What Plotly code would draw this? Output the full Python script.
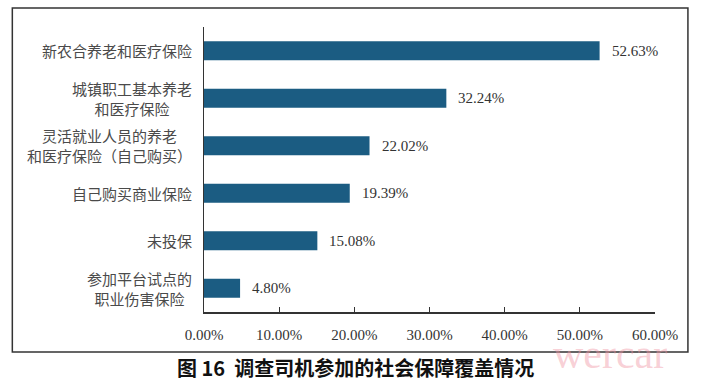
import plotly.graph_objects as go

categories = [
    "新农合养老和医疗保险",
    "城镇职工基本养老<br>和医疗保险",
    "灵活就业人员的养老<br>和医疗保险（自己购买）",
    "自己购买商业保险",
    "未投保",
    "参加平台试点的<br>职业伤害保险",
]
values = [52.63, 32.24, 22.02, 19.39, 15.08, 4.80]
x_ticks = [0, 10, 20, 30, 40, 50, 60]
x_tick_labels = [f"{v:.2f}%" for v in x_ticks]
title_text = "图 16  调查司机参加的社会保障覆盖情况"

BAR = "#1b5c82"
SERIF = "Liberation Serif, Times New Roman, serif"
CJK = "Noto Sans CJK SC, sans-serif"

fig = go.Figure()
fig.add_trace(go.Bar(
    x=values, y=categories, orientation="h",
    marker=dict(color=BAR, line=dict(width=0)),
    width=0.4, hoverinfo="skip",
))

annotations = []
for c, v in zip(categories, values):
    annotations.append(dict(
        x=v, y=c, xref="x", yref="y", text=f"{v:.2f}%",
        xanchor="left", yanchor="middle", xshift=10, showarrow=False,
        font=dict(family=SERIF, size=15, color="#333333"),
    ))
    annotations.append(dict(
        x=0, y=c, xref="paper", yref="y", text=c,
        xanchor="right", yanchor="middle", xshift=-10, showarrow=False,
        align="center",
        font=dict(family=CJK, size=15, color="#4a4a4a"),
    ))

annotations.append(dict(
    x=0.90, y=-0.235, xref="paper", yref="paper", text="wercar",
    xanchor="center", yanchor="bottom", showarrow=False,
    font=dict(family=SERIF, size=42, color="rgba(240,150,165,0.45)"),
))
annotations.append(dict(
    x=0.335, y=-0.193, xref="paper", yref="paper", text=f"<b>{title_text}</b>",
    xanchor="center", yanchor="middle", showarrow=False,
    font=dict(family=CJK, size=20, color="#111111"),
))

fig.update_layout(
    width=702, height=382,
    margin=dict(l=204, r=47, t=27, b=70),
    paper_bgcolor="white", plot_bgcolor="white",
    showlegend=False,
    annotations=annotations,
    shapes=[dict(
        type="rect", xref="paper", yref="paper",
        x0=-0.425, x1=1.073, y0=-0.140, y1=1.067,
        line=dict(color="#333333", width=1.5), fillcolor="rgba(0,0,0,0)",
        layer="above",
    )],
    xaxis=dict(
        range=[0, 60], tickvals=x_ticks, ticktext=x_tick_labels,
        showgrid=False, zeroline=False,
        showline=True, linecolor="#333333", linewidth=1.5,
        ticks="inside", ticklen=5, tickcolor="#333333", tickwidth=1,
        ticklabelstandoff=8,
        tickfont=dict(family=SERIF, size=15, color="#333333"),
        fixedrange=True,
    ),
    yaxis=dict(
        autorange="reversed", showticklabels=False, ticks="",
        showgrid=False, zeroline=False,
        showline=True, linecolor="#333333", linewidth=1.5,
        fixedrange=True,
    ),
)

fig.write_html(
    "out.html",
    config=dict(displayModeBar=False, staticPlot=True),
    post_script="document.body.style.margin='0';document.body.style.overflow='hidden';",
)
